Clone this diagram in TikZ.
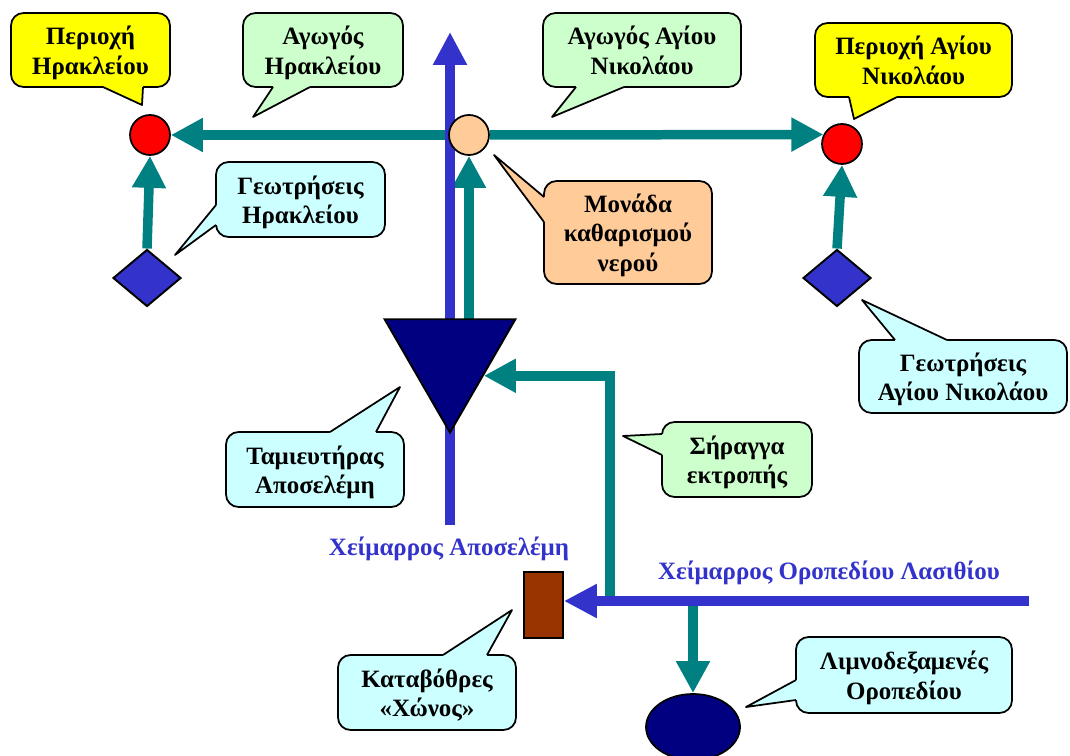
\documentclass[tikz,border=0pt]{standalone}
\usepackage{fontspec}
\setmainfont{Liberation Serif}
\usetikzlibrary{shapes.geometric,arrows.meta,calc,backgrounds}

\definecolor{streamblue}{HTML}{3333CC}
\definecolor{pipeteal}{HTML}{008080}
\definecolor{deepblue}{HTML}{000080}
\definecolor{brick}{HTML}{993300}
\definecolor{callyellow}{HTML}{FFFF00}
\definecolor{callgreen}{HTML}{CCFFCC}
\definecolor{callcyan}{HTML}{CCFFFF}
\definecolor{callorange}{HTML}{FFCC99}

% pointer of a callout: colour, base a, tip, base b, shift into the box
\newcommand\calltail[5]{%
  \fill[#1] ($(#2)+(#5)$) -- (#2) -- (#3) -- (#4) -- ($(#4)+(#5)$) -- cycle;
  \draw[line width=1pt, line join=round] (#2) -- (#3) -- (#4);
}

\begin{document}
\begin{tikzpicture}[x=0.02cm, y=-0.02cm,
    every node/.style = {font=\bfseries\fontsize{14.2}{16.8}\selectfont, align=center},
    callbox/.style = {draw, line width=1pt, rounded corners=0.25cm, inner sep=0pt,
                      text depth=-4pt},
    pipe/.style = {draw=pipeteal, line width=0.19cm,
                   -{Triangle[length=0.64cm,width=0.64cm]}},
    stream/.style = {draw=streamblue, line width=0.2cm,
                     -{Triangle[length=0.66cm,width=0.64cm]}},
    site/.style = {circle, draw, line width=1pt, fill=red,
                   minimum size=0.8cm, inner sep=0pt},
    well/.style = {diamond, draw, line width=1.1pt, fill=streamblue,
                   minimum width=1.36cm, minimum height=1.14cm, inner sep=0pt}]
\useasboundingbox (0,0) rectangle (1070,756);

% sites, wells and works
\node[site] (herS) at (150,135) {};
\node[site] (anS) at (842,144) {};
\node[well] (herW) at (147,278) {};
\node[well] (anW) at (837,278) {};
\node[circle, draw, line width=1pt, fill=callorange,
      minimum size=0.8cm, inner sep=0pt] (plant) at (469,135) {};
\node[regular polygon, regular polygon sides=3, shape border rotate=180,
      draw, line width=1.1pt, fill=deepblue, minimum size=3.02cm,
      inner sep=0pt] (dam) at (450,357) {};
\node[rectangle, draw, line width=1pt, fill=brick, minimum width=0.78cm,
      minimum height=1.32cm, inner sep=0pt] (xonos) at (543.5,605) {};
\node[ellipse, draw, line width=1pt, fill=deepblue, minimum width=1.88cm,
      minimum height=1.32cm, inner sep=0pt] (limni) at (693,727) {};

\coordinate (aposTop) at (450,32);
\coordinate (aposBot) at (450,525);
\coordinate (lasEnd) at (1029,601);
\coordinate (tunnel) at (610,601);
\coordinate (split) at (693,601);

% streams and pipes
\begin{scope}[on background layer]
  \draw[pipe] (plant.center) -- (herS);
  \draw[pipe] (plant.south |- dam.center) -- (plant.south);
  \draw[stream] (aposBot) -- (aposTop);
  \draw[pipe, line join=miter] (tunnel) |- (dam.-29);
  \draw[pipe] (split) -- (limni.north);
  \draw[stream] (lasEnd) -- (xonos.east |- lasEnd);
\end{scope}
\draw[pipe] (herW.north) -- (herS.south);
\draw[pipe] (anW.north) -- (anS.south);
\draw[pipe] (plant.east) -- (anS.153);

\node[text=streamblue] (aposName) at (449,549) {Χείμαρρος Αποσελέμη};
\node[text=streamblue] (lasName) at (829,573) {Χείμαρρος Οροπεδίου Λασιθίου};

% callouts
\node[callbox, fill=callyellow, minimum width=3.18cm, minimum height=1.48cm]
  (herArea) at (90.5,50) {Περιοχή\\Ηρακλείου};
\calltail{callyellow}{103,87}{142,105}{143,87}{0,-2}
\node[callbox, fill=callgreen, minimum width=3.2cm, minimum height=1.48cm]
  (herPipe) at (323,50) {Αγωγός\\Ηρακλείου};
\calltail{callgreen}{273,87}{253,117}{310,87}{0,-2}
\node[callbox, fill=callcyan, minimum width=3.38cm, minimum height=1.5cm]
  (herWells) at (300.5,199.5) {Γεωτρήσεις\\Ηρακλείου};
\calltail{callcyan}{216,205}{175,255}{216,225}{2,0}
\node[callbox, fill=callgreen, minimum width=3.96cm, minimum height=1.48cm]
  (anPipe) at (642,50) {Αγωγός Αγίου\\Νικολάου};
\calltail{callgreen}{576,87}{552,117}{624,87}{0,-2}
\node[callbox, fill=callyellow, minimum width=3.94cm, minimum height=1.48cm]
  (anArea) at (913.5,60) {Περιοχή Αγίου\\Νικολάου};
\calltail{callyellow}{849,97}{854,119}{897,97}{0,-2}
\node[callbox, fill=callorange, minimum width=3.36cm, minimum height=2.06cm]
  (plantText) at (628,232.5) {Μονάδα\\καθαρισμού\\νερού};
\calltail{callorange}{544,197}{494,155}{544,222}{2,0}
\node[callbox, fill=callcyan, minimum width=4.16cm, minimum height=1.46cm]
  (anWells) at (963,376.5) {Γεωτρήσεις\\Αγίου Νικολάου};
\calltail{callcyan}{895,340}{862,300}{947,340}{0,2}
\node[callbox, fill=callcyan, minimum width=3.56cm, minimum height=1.5cm]
  (damText) at (315,469.5) {Ταμιευτήρας\\Αποσελέμη};
\calltail{callcyan}{330,432}{400,387}{376,432}{0,2}
\node[callbox, fill=callgreen, minimum width=3cm, minimum height=1.5cm]
  (tunnelText) at (737,459.5) {Σήραγγα\\εκτροπής};
\calltail{callgreen}{662,434}{623,436}{662,455}{2,0}
\node[callbox, fill=callcyan, minimum width=3.56cm, minimum height=1.5cm]
  (xonosText) at (427,692.5) {Καταβόθρες\\«Χώνος»};
\calltail{callcyan}{443,655}{512,610}{487,655}{0,2}
\node[callbox, fill=callcyan, minimum width=4.32cm, minimum height=1.52cm]
  (limniText) at (904,675) {Λιμνοδεξαμενές\\Οροπεδίου};
\calltail{callcyan}{796,680}{746,707}{796,700}{2,0}
\end{tikzpicture}
\end{document}
